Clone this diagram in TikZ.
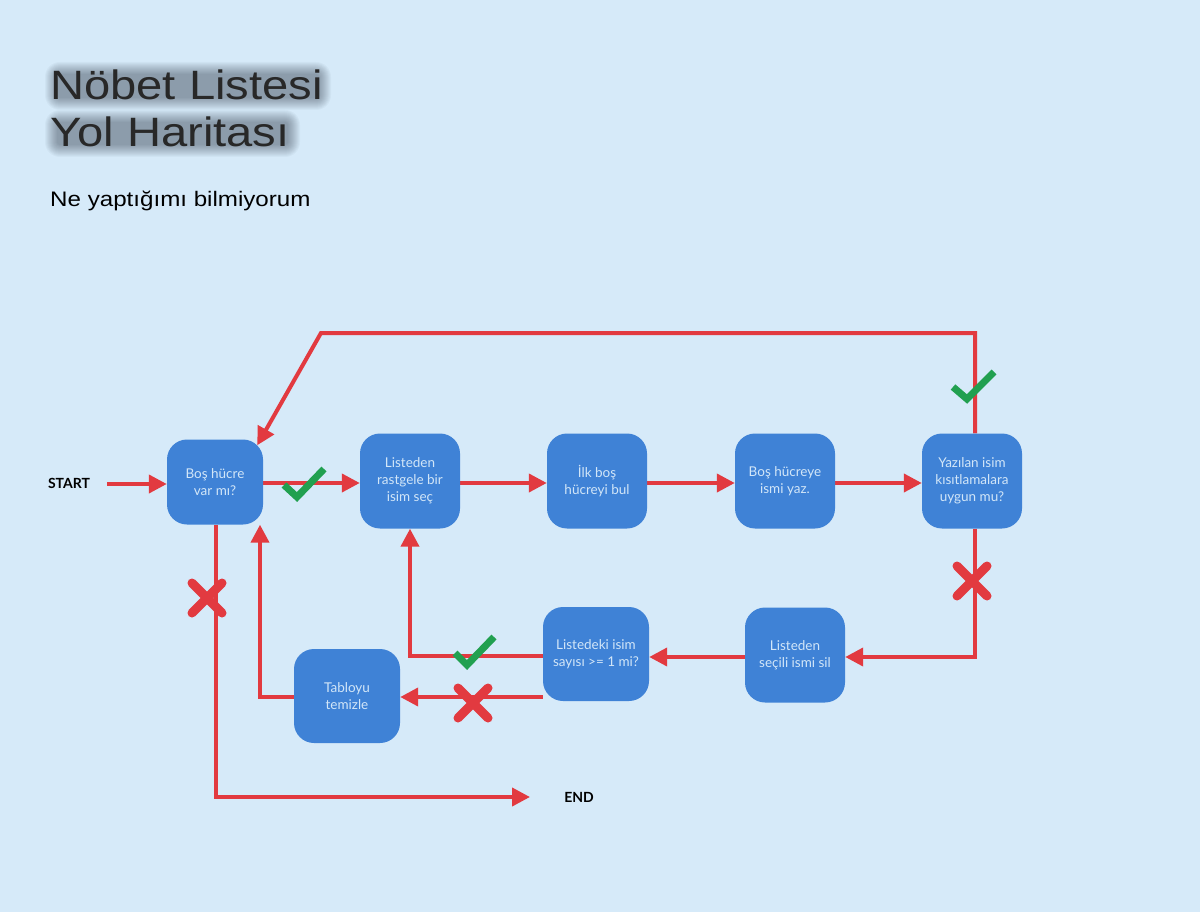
\documentclass[tikz,border=0pt]{standalone}
\usepackage{fontspec}
\setmainfont{Lato}
\newfontfamily\arialf{Liberation Sans}
\usetikzlibrary{arrows.meta,calc}
\definecolor{bgc}{RGB}{214,234,249}
\definecolor{boxc}{RGB}{63,130,214}
\definecolor{boxtxt}{RGB}{210,230,248}
\definecolor{redc}{RGB}{226,58,64}
\definecolor{greenc}{RGB}{33,160,80}
\definecolor{ttlc}{RGB}{40,40,40}
\definecolor{glowc}{RGB}{30,40,55}
\pgfdeclarelayer{bglayer}
\pgfdeclarelayer{edgelayer}
\pgfsetlayers{bglayer,edgelayer,main}
\tikzset{
  box/.style={fill=boxc, rounded corners=20pt, minimum width=100pt, minimum height=95pt,
    align=center, text=boxtxt, font=\fontsize{13.5}{17}\selectfont, inner sep=2pt},
  arr/.style={draw=redc, line width=4pt, -{Triangle[length=18pt,width=18pt]}},
  chk/.style={draw=greenc, line width=7pt},
  crs/.style={draw=redc, line width=9pt, line cap=round},
  ttl/.style={font=\arialf\fontsize{41}{49}\selectfont, anchor=base west, inner sep=0pt},
  sub/.style={font=\arialf\fontsize{21}{25}\selectfont, anchor=base west, inner sep=0pt},
  lbl/.style={font=\bfseries\fontsize{14}{16}\selectfont, text=black, inner sep=0pt},
  glow/.style={fill=glowc, opacity=0.035}
}
\begin{document}
\begin{tikzpicture}[x=1pt,y=-1pt]
\begin{pgfonlayer}{bglayer}
\fill[bgc] (0,0) rectangle (1200,912);
\end{pgfonlayer}
\useasboundingbox (0,0) rectangle (1200,912);

% soft glow behind the title
\foreach \i in {0,...,12}{
  \fill[glow, rounded corners=\i pt+3pt] (57-\i,74-\i) rectangle (319+\i,98+\i);
  \fill[glow, rounded corners=\i pt+3pt] (57-\i,122-\i) rectangle (288+\i,145+\i);
}
\node[ttl, text=ttlc] (t1) at (50,100) {\scalebox{1.15}[1]{Nöbet Listesi}};
\node[ttl, text=ttlc] (t2) at (50,147) {\scalebox{1.15}[1]{Yol Haritası}};
\node[sub, text=black] (st) at (50,207) {\scalebox{1.15}[1]{Ne yaptığımı bilmiyorum}};

% nodes
\node[box, minimum width=96pt, minimum height=85pt] (n1) at (215,482) {Boş hücre\\var mı?};
\node[box] (n2) at (410,481) {Listeden\\rastgele bir\\isim seç};
\node[box] (n3) at (597,481) {İlk boş\\hücreyi bul};
\node[box] (n4) at (785,481) {Boş hücreye\\ismi yaz.};
\node[box] (n5) at (972,481) {Yazılan isim\\kısıtlamalara\\uygun mu?};
\node[box] (n6) at (795,655) {Listeden\\seçili ismi sil};
\node[box, minimum width=106pt, minimum height=94pt] (n7) at (596,654) {Listedeki isim\\sayısı >= 1 mi?};
\node[box, minimum width=106pt, minimum height=94pt] (n8) at (347,696) {Tabloyu\\temizle};

\node[lbl] (start) at (69,483) {START};
\node[lbl] (end) at (579,797) {END};

\coordinate (sp) at (107,484);
\coordinate (tr) at (975,333);
\coordinate (tl) at (321,333);
\coordinate (ep) at (530,797);

\begin{pgfonlayer}{edgelayer}
\draw[arr] (sp) -- (sp -| n1.west);
\draw[arr] ([yshift=-1pt]n1.east) -- ([yshift=-1pt]n1.east -| n2.west);
\draw[arr] ([yshift=-2pt]n2.east) -- ([yshift=-2pt]n2.east -| n3.west);
\draw[arr] ([yshift=-2pt]n3.east) -- ([yshift=-2pt]n3.east -| n4.west);
\draw[arr] ([yshift=-2pt]n4.east) -- ([yshift=-2pt]n4.east -| n5.west);
\draw[arr] ([xshift=3pt]n5.north) -- (tr) -- (tl) -- ([shift={(-6pt,-6pt)}]n1.north east);
\draw[arr] ([xshift=3pt]n5.south) |- ([yshift=-2pt]n6.east);
\draw[arr] ([yshift=-2pt]n6.west) -- ([yshift=-2pt]n6.west -| n7.east);
\draw[arr] ([yshift=-2pt]n7.west) -| (n2.south);
\draw[arr] ([yshift=-43pt]n7.west) -- ([yshift=-43pt]n7.west -| n8.east);
\draw[arr] ([yshift=-1pt]n8.west) -| ([xshift=45pt]n1.south);
\draw[arr] ([xshift=1pt]n1.south) |- (ep);
\end{pgfonlayer}

% marks
\draw[chk] (284,485) -- (297,497) -- (324,469);
\draw[chk] (953,387) -- (967,399) -- (994,372);
\draw[chk] (455,653) -- (467,665) -- (494,637);
\draw[crs] (458,688) -- (488,718) (458,718) -- (488,688);
\draw[crs] (957,566) -- (987,596) (957,596) -- (987,566);
\draw[crs] (192,583) -- (222,613) (192,613) -- (222,583);
\end{tikzpicture}
\end{document}
